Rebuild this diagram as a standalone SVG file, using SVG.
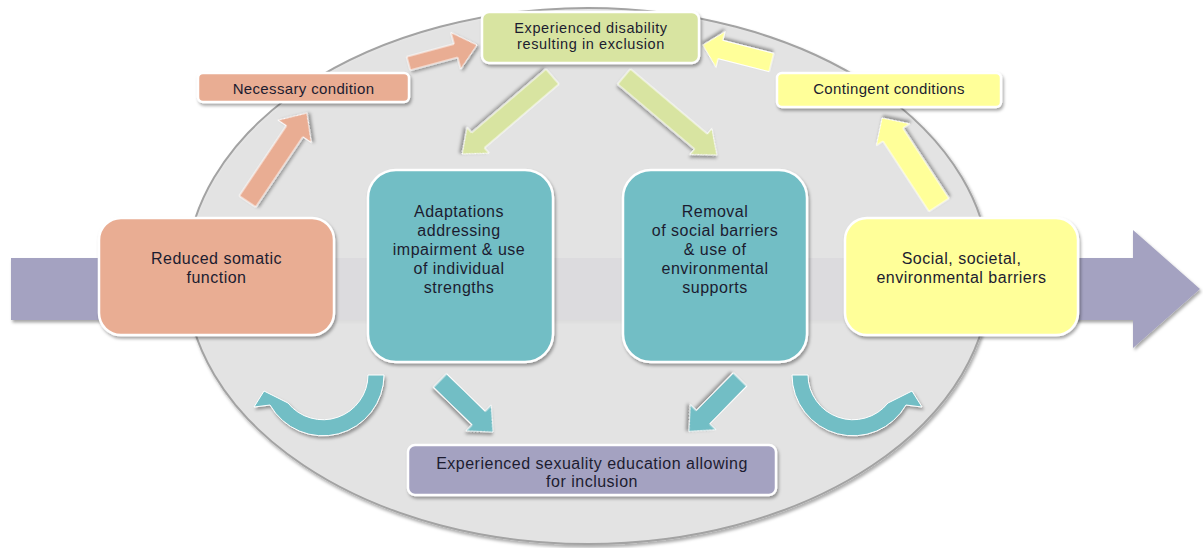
<svg xmlns="http://www.w3.org/2000/svg" width="1203" height="548" viewBox="0 0 1203 548">
<defs>
<filter id="sh" x="-20%" y="-20%" width="140%" height="150%">
<feDropShadow dx="1.5" dy="2.5" stdDeviation="1.8" flood-color="#000" flood-opacity="0.35"/>
</filter>
<style>
.box{stroke:#fff;stroke-width:2.5;filter:url(#sh)}
.arr{stroke:#fff;stroke-width:1;filter:url(#sh)}
.salmon{fill:#e9ad93}
.yellow{fill:#ffff99}
.teal{fill:#72bec5}
.green{fill:#d8e4a1}
.purple{fill:#a4a2c1}
text{font-family:"Liberation Sans",Arial,sans-serif;fill:#1c1c30;text-anchor:middle}
.big{font-size:16px;letter-spacing:0.5px}
.sm{font-size:15px;letter-spacing:0.35px}
.top{font-size:14.5px;letter-spacing:0.6px}
</style>
</defs>
<g id="background">
<polygon class="purple" points="11,258 1133,258 1133,230 1200,289 1133,348 1133,320 11,320" filter="url(#sh)"/>
<ellipse cx="588" cy="276" rx="402" ry="268" fill="#e5e5e5" fill-opacity="0.88" stroke="#a3a3a3" stroke-width="2" filter="url(#sh)"/>
</g>
<g id="connectors">
<polygon class="arr salmon" transform="translate(247.5,201.5) rotate(-56.1)" points="0,-10 84.6,-10 84.6,-20 106.6,0 84.6,20 84.6,10 0,10"/>
<polygon class="arr salmon" transform="translate(408.5,63.5) rotate(-15.1)" points="0,-7 49,-7 49,-19 71,0 49,19 49,7 0,7"/>
<polygon class="arr green" transform="translate(552.5,76.5) rotate(139.4)" points="0,-10 98,-10 98,-17 119,0 98,17 98,10 0,10"/>
<polygon class="arr green" transform="translate(624,76.5) rotate(40.2)" points="0,-10 100.7,-10 100.7,-17 121.7,0 100.7,17 100.7,10 0,10"/>
<polygon class="arr yellow" transform="translate(771.5,62.5) rotate(-165.7)" points="0,-9.5 52.7,-9.5 52.7,-18.5 70.7,0 52.7,18.5 52.7,9.5 0,9.5"/>
<polygon class="arr yellow" transform="translate(939,205) rotate(-123.2)" points="0,-12 84,-12 84,-20 104,0 84,20 84,12 0,12"/>
<polygon class="arr teal" transform="translate(440,380.5) rotate(44.2)" points="0,-9.5 53.9,-9.5 53.9,-18 73.9,0 53.9,18 53.9,9.5 0,9.5"/>
<polygon class="arr teal" transform="translate(740,379.5) rotate(134.5)" points="0,-9.5 52.8,-9.5 52.8,-18 72.8,0 52.8,18 52.8,9.5 0,9.5"/>
<path class="arr teal" d="M384,375 A61,61 0 0 1 270,405 L254,407 L264,391 L288,403 A45,45 0 0 0 368,375 Z"/>
<g filter="url(#sh)"><path class="teal" stroke="#fff" stroke-width="1" transform="matrix(-1 0 0 1 1176 0)" d="M384,375 A61,61 0 0 1 270,405 L254,407 L264,391 L288,403 A45,45 0 0 0 368,375 Z"/></g>
</g>
<g id="node-reduced">
<rect class="box salmon" x="99" y="218" width="235" height="117" rx="22"/>
<text class="big" x="216.5" y="264">Reduced somatic</text>
<text class="big" x="216.5" y="283">function</text>
</g>
<g id="node-social">
<rect class="box yellow" x="845" y="218" width="233" height="117" rx="22"/>
<text class="big" x="961.5" y="264">Social, societal,</text>
<text class="big" x="961.5" y="283">environmental barriers</text>
</g>
<g id="node-adaptations">
<rect class="box teal" x="368" y="170" width="185" height="192" rx="28"/>
<text class="big" x="459" y="217">Adaptations</text>
<text class="big" x="459" y="236">addressing</text>
<text class="big" x="459" y="255">impairment &amp; use</text>
<text class="big" x="459" y="274">of individual</text>
<text class="big" x="459" y="293">strengths</text>
</g>
<g id="node-removal">
<rect class="box teal" x="623" y="170" width="184" height="192" rx="28"/>
<text class="big" x="715" y="217">Removal</text>
<text class="big" x="715" y="236">of social barriers</text>
<text class="big" x="715" y="255">&amp; use of</text>
<text class="big" x="715" y="274">environmental</text>
<text class="big" x="715" y="293">supports</text>
</g>
<g id="node-disability">
<rect class="box green" x="482" y="12" width="217" height="51" rx="7"/>
<text class="top" x="591" y="32.5">Experienced disability</text>
<text class="top" x="591" y="48.5">resulting in exclusion</text>
</g>
<g id="node-necessary">
<rect class="box salmon" x="198" y="73" width="211" height="29" rx="5"/>
<text class="sm" x="303.5" y="93.5">Necessary condition</text>
</g>
<g id="node-contingent">
<rect class="box yellow" x="777" y="73" width="224" height="34" rx="5"/>
<text class="sm" x="889" y="93.5">Contingent conditions</text>
</g>
<g id="node-education">
<rect class="box purple" x="408" y="445" width="368" height="50" rx="7"/>
<text class="big" x="592" y="468.5">Experienced sexuality education allowing</text>
<text class="big" x="592" y="487">for inclusion</text>
</g>
</svg>
